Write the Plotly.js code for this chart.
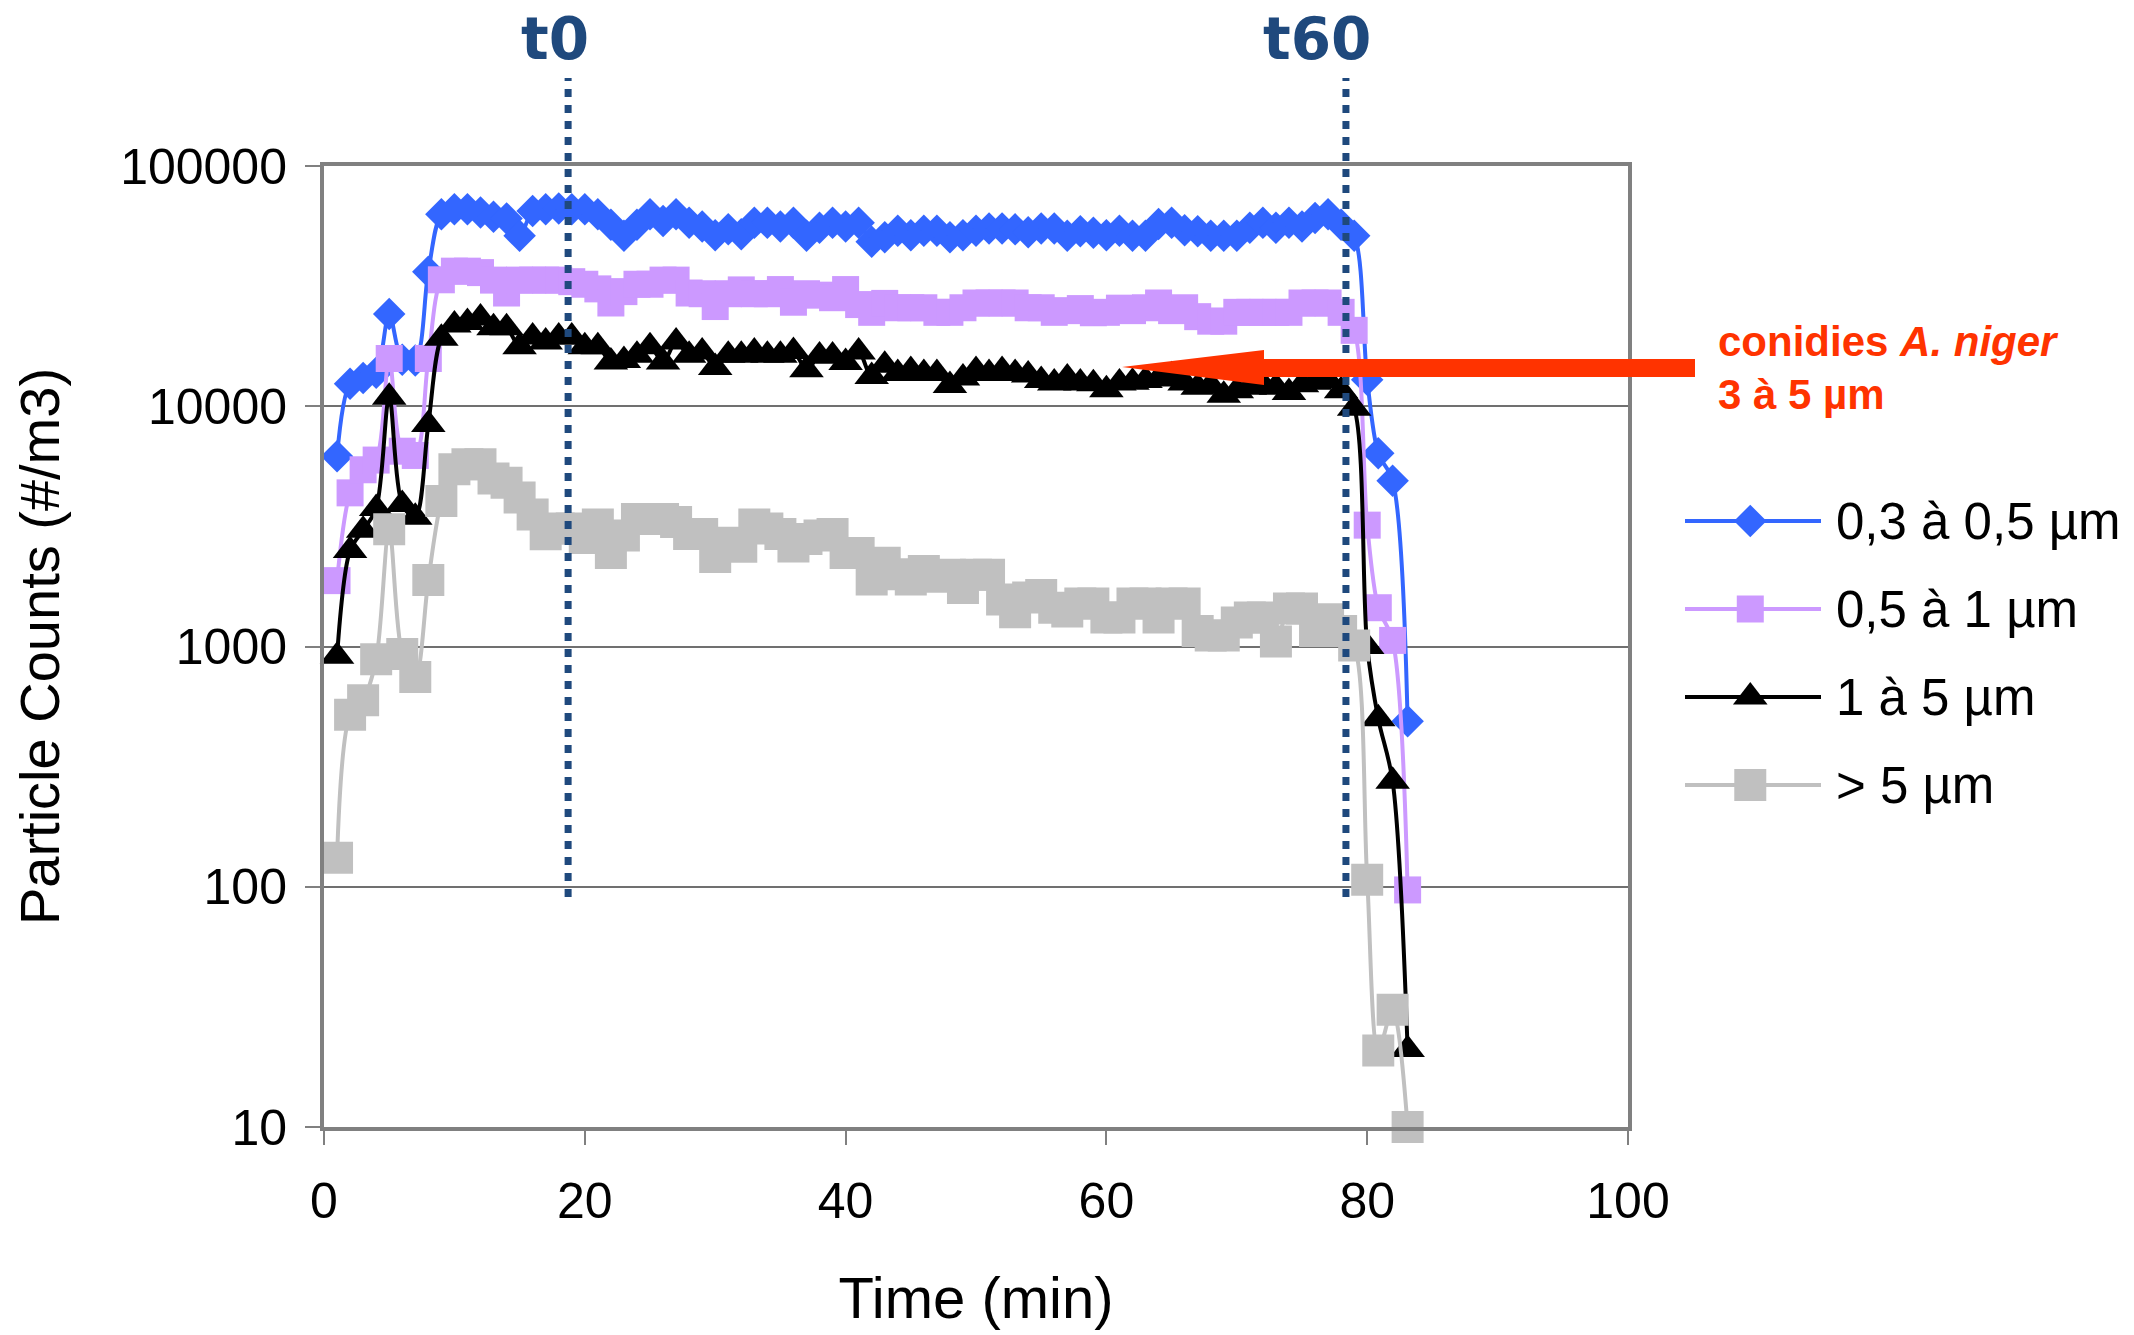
<!DOCTYPE html>
<html>
<head>
<meta charset="utf-8">
<script src="https://cdn.plot.ly/plotly-3.0.1.min.js"></script>
<style>html,body{margin:0;padding:0;background:#fff;}#chart{width:2134px;height:1335px;}</style>
</head>
<body>
<div id="chart"></div>
<script>
// ---- data ----
const timeMin = [1,2,3,4,5,6,7,8,9,10,
  11,12,13,14,15,16,17,18,19,20,
  21,22,23,24,25,26,27,28,29,30,
  31,32,33,34,35,36,37,38,39,40,
  41,42,43,44,45,46,47,48,49,50,
  51,52,53,54,55,56,57,58,59,60,
  61,62,63,64,65,66,67,68,69,70,
  71,72,73,74,75,76,77,78,79,80,
  80.85,81.95,83.1];

const seriesNames = ["0,3 à 0,5 µm", "0,5 à 1 µm", "1 à 5 µm", "> 5 µm"];

const counts03_05 = [6200,12400,13100,13800,24200,15600,15500,36300,63000,66000,
  66000,64000,61500,60500,51200,65000,66000,66500,66000,66000,
  63000,57000,51300,57000,63000,59000,63000,58000,56000,51500,
  54500,52000,58000,58000,56000,58000,51300,55300,58000,56000,
  58000,48400,50500,53700,51500,53700,53700,50500,51500,53700,
  55000,55000,54500,53000,55000,55000,51300,53500,52700,51500,
  53700,51300,51300,57300,58000,54000,53500,51300,51300,51300,
  55300,58000,55300,58000,56000,60800,63000,57000,51200,12900,
  6370,4900,488];

const counts05_1 = [1880,4360,5440,5970,15800,6500,6240,15800,33600,36500,
  36500,36000,33500,29600,33500,33500,33500,33500,33000,32200,
  30800,26900,30000,32200,32200,33500,33500,29600,29400,26000,
  29400,30500,29400,29400,30600,27100,29400,29000,28300,30600,
  26500,24600,26800,25700,25700,25700,24600,24600,25700,26900,
  26900,26900,26900,25700,25700,24600,25000,25500,24500,24600,
  25600,25000,25700,26900,25000,25700,23600,22600,22600,24600,
  24600,24600,24600,24600,26900,26900,26900,24600,20700,3200,
  1450,1060,97];

const counts1_5 = [910,2510,3050,3750,10900,3900,3450,8400,19200,21800,
  22300,23300,21200,21200,17700,19400,18500,19400,19400,17700,
  17700,15300,15500,16300,17700,15300,18500,16300,16800,14500,
  16300,16300,16800,16300,16300,16900,14200,16200,16200,15200,
  16800,13300,14800,13700,14100,13700,13700,12200,13100,14100,
  13700,14100,13700,13500,12800,12500,13100,12500,12400,11700,
  12500,12600,12800,13000,13400,12500,12000,12200,11100,11600,
  12000,12300,12000,11400,12300,12600,12800,11600,9800,1000,
  500,275,21];

const countsOver5 = [132,520,598,885,3080,930,747,1890,4030,5470,
  5740,5740,5000,4800,4170,3540,2930,3100,3100,2830,
  3220,2450,2900,3390,3390,3390,3300,2940,2940,2360,
  2700,2600,3220,3100,2940,2610,2800,2900,2940,2450,
  2450,1900,2230,2000,1900,2060,1950,1990,1750,1990,
  1990,1570,1390,1600,1640,1450,1400,1510,1510,1320,
  1320,1510,1510,1320,1510,1510,1160,1110,1110,1260,
  1320,1320,1050,1440,1440,1160,1300,1160,1010,107,
  20.8,30.8,10];

const xTicks = [0, 20, 40, 60, 80, 100];
const yTicks = [10, 100, 1000, 10000, 100000];
const yTickText = ["10", "100", "1000", "10000", "100000"];

const markerLabels = [{text: "t0", at: 18.72, labelAt: 17.7}, {text: "t60", at: 78.37, labelAt: 76.15}];
const arrowText = ["<b>conidies <i>A. niger</i></b>", "<b>3 à 5 µm</b>"];

// ---- styles ----
const FONT = "Liberation Sans, Arial, sans-serif";
const styles = [
  {color: "#3366FF", symbol: "diamond", size: 25},
  {color: "#CC99FF", symbol: "square", size: 27},
  {color: "#000000", symbol: "triangle-up", size: 30},
  {color: "#C0C0C0", symbol: "square", size: 32}
];
const allSeries = [counts03_05, counts05_1, counts1_5, countsOver5];

const traces = allSeries.map((vals, i) => ({
  type: "scatter", mode: "lines+markers", name: seriesNames[i],
  x: timeMin, y: vals, xaxis: "x", yaxis: "y",
  cliponaxis: false,
  line: {color: styles[i].color, width: 4, shape: "spline", smoothing: 0.9},
  marker: {color: styles[i].color, symbol: styles[i].symbol, size: styles[i].size,
           line: {width: 0}},
  showlegend: false, hoverinfo: "x+y+name"
}));

// custom legend drawn on a helper axis pair
const legendRows = [3, 2, 1, 0];
allSeries.forEach((vals, i) => {
  traces.push({type: "scatter", mode: "lines", x: [0, 1], y: [legendRows[i], legendRows[i]],
    xaxis: "x2", yaxis: "y2", cliponaxis: false, showlegend: false, hoverinfo: "skip",
    line: {color: styles[i].color, width: 4}});
  traces.push({type: "scatter", mode: "markers", x: [0.48], y: [legendRows[i]],
    xaxis: "x2", yaxis: "y2", cliponaxis: false, showlegend: false, hoverinfo: "skip",
    marker: {color: styles[i].color, symbol: styles[i].symbol, size: styles[i].size, line: {width: 0}}});
});

const W = 2134, H = 1335;
const px = X => X / W;
const py = Y => 1 - Y / H;

const annotations = [];
seriesNames.forEach((nm, i) => {
  annotations.push({xref: "paper", yref: "y2", x: px(1834), y: legendRows[i],
    xanchor: "left", yanchor: "middle", showarrow: false, text: nm,
    font: {family: FONT, size: 51, color: "#000"}});
});
markerLabels.forEach(m => {
  annotations.push({xref: "x", yref: "paper", x: m.labelAt, y: py(39),
    xanchor: "center", yanchor: "middle", showarrow: false, text: "<b>" + m.text + "</b>",
    font: {family: "DejaVu Sans, sans-serif", size: 58, color: "#1F497D"}});
});
annotations.push({xref: "paper", yref: "paper", x: px(1716), y: py(341), xanchor: "left", yanchor: "middle",
  showarrow: false, text: arrowText[0], font: {family: FONT, size: 42, color: "#FF3300"}});
annotations.push({xref: "paper", yref: "paper", x: px(1716), y: py(394), xanchor: "left", yanchor: "middle",
  showarrow: false, text: arrowText[1], font: {family: FONT, size: 42, color: "#FF3300"}});

const shapes = markerLabels.map(m => ({type: "line", xref: "x", yref: "paper",
  x0: m.at, x1: m.at, y0: py(897), y1: py(78), layer: "above",
  line: {color: "#1F497D", width: 7, dash: "8px,8px"}}));

// arrow (shaft + head) in paper coordinates
const arrowPath = "M" + px(1122) + "," + py(367) +
  " L" + px(1264) + "," + py(350) +
  " L" + px(1264) + "," + py(359) +
  " L" + px(1695) + "," + py(359) +
  " L" + px(1695) + "," + py(377) +
  " L" + px(1264) + "," + py(377) +
  " L" + px(1264) + "," + py(385) + " Z";
shapes.push({type: "path", xref: "paper", yref: "paper", path: arrowPath,
  fillcolor: "#FF3300", line: {width: 0}, layer: "above"});

const axisFont = {family: FONT, size: 50, color: "#000"};

const layout = {
  width: W, height: H,
  margin: {l: 0, r: 0, t: 0, b: 0, pad: 0},
  paper_bgcolor: "#ffffff", plot_bgcolor: "#ffffff",
  showlegend: false,
  xaxis: {
    domain: [324 / W, 1628 / W], range: [0, 100], tickvals: xTicks,
    ticks: "outside", ticklen: 14, tickwidth: 2, tickcolor: "#808080",
    showline: true, linecolor: "#808080", linewidth: 4, mirror: true,
    showgrid: false, zeroline: false, automargin: false,
    tickfont: axisFont, ticklabelstandoff: 13,
    title: {text: "Time (min)", font: {family: FONT, size: 58, color: "#000"}, standoff: 50}
  },
  yaxis: {
    domain: [1 - 1127 / H, 1 - 166 / H], type: "log", range: [1, 5],
    tickvals: yTicks, ticktext: yTickText,
    ticks: "outside", ticklen: 15, tickwidth: 2, tickcolor: "#808080",
    showline: true, linecolor: "#808080", linewidth: 4, mirror: true,
    showgrid: true, gridcolor: "#707070", gridwidth: 2, zeroline: false, automargin: false,
    tickfont: axisFont, ticklabelstandoff: 8,
    title: {text: "Particle Counts (#/m3)", font: {family: FONT, size: 56, color: "#000"}, standoff: 44}
  },
  xaxis2: {domain: [1685 / W, 1821 / W], range: [0, 1], visible: false, fixedrange: true, anchor: "y2"},
  yaxis2: {domain: [1 - 790 / H, 1 - 516 / H], range: [-0.0568, 3.0568], visible: false, fixedrange: true, anchor: "x2"},
  annotations: annotations,
  shapes: shapes
};

Plotly.newPlot("chart", traces, layout, {displayModeBar: false, staticPlot: true});
</script>
</body>
</html>
